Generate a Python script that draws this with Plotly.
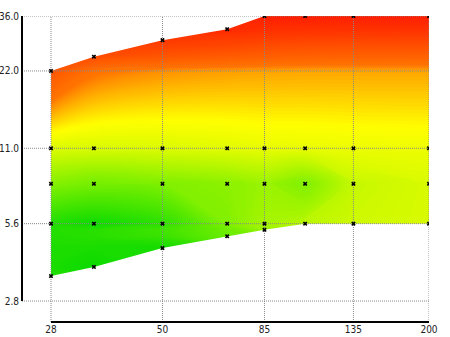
import numpy as np
import plotly.graph_objects as go

# ---- data ----
focal_lengths = [28, 35, 50, 70, 85, 105, 135, 200]
max_aperture = [3.5, 3.8, 4.5, 5.0, 5.3, 5.6, 5.6, 5.6]   # lower edge (f-number)
min_aperture = [22, 25, 29, 32, 36, 36, 36, 36]           # upper edge (f-number)
common_stops = [5.6, 8, 11]

score_max_ap = [0.08, 0.03, 0.05, 0.25, 0.34, 0.39, 0.42, 0.44]
score_f5_6 = [0.08, 0.04, 0.11, 0.30, 0.36, 0.39, 0.42, 0.44]
score_f8 = [0.31, 0.28, 0.30, 0.32, 0.34, 0.30, 0.41, 0.44]
score_f11 = [0.445, 0.44, 0.445, 0.455, 0.464, 0.466, 0.47, 0.473]
score_min_ap = [0.73, 0.76, 0.84, 0.93, 0.99, 0.99, 0.99, 0.99]

x_ticks = [28, 50, 85, 135, 200]
y_ticks = [2.8, 5.6, 11, 22, 36]
y_tick_text = ["2.8", "5.6", "11.0", "22.0", "36.0"]

# ---- build point list ----
px, py, pz = [], [], []
for i, f in enumerate(focal_lengths):
    if max_aperture[i] not in common_stops:
        px.append(f); py.append(max_aperture[i]); pz.append(score_max_ap[i])
    for s, arr in zip(common_stops, [score_f5_6, score_f8, score_f11]):
        px.append(f); py.append(s); pz.append(arr[i])
    px.append(f); py.append(min_aperture[i]); pz.append(score_min_ap[i])

# axis ranges (log10), plot area 22..429 x 16..322 px
x_hi = np.log10(200)
x_lo = x_hi - (np.log10(200) - np.log10(28)) * 407 / 378
y_hi = np.log10(36)
y_lo = y_hi - (np.log10(36) - np.log10(2.8)) * 306 / 285
xmin, ymin, ymax = 10 ** x_lo, 10 ** y_lo, 10 ** y_hi

colorscale = [[0.0, "#00d800"], [0.3, "#80f000"], [0.5, "#ffff00"],
              [0.62, "#ff7400"], [0.8, "#ff4200"], [1.0, "#ff1e00"]]

fig = go.Figure()
fig.add_trace(go.Contour(x=px, y=py, z=pz, connectgaps=True,
                         autocontour=False,
                         contours=dict(start=0, end=1, size=0.005,
                                       coloring="fill", showlines=False),
                         line=dict(width=0),
                         colorscale=colorscale, zmin=0, zmax=1, showscale=False,
                         hoverinfo="skip"))

# white mask outside the measured region
mx = [xmin, focal_lengths[-1]] + focal_lengths[::-1] + focal_lengths[:5] + [xmin]
my = [ymin, ymin] + max_aperture[::-1] + min_aperture[:5] + [ymax]
fig.add_trace(go.Scatter(x=mx, y=my, fill="toself", fillcolor="white",
                         line=dict(width=0), mode="lines", hoverinfo="skip"))

# grid lines (drawn over the colour field)
gx, gy = [], []
for t in x_ticks:
    gx += [t, t, None]; gy += [ymin, ymax, None]
for t in y_ticks:
    gx += [xmin, 200, None]; gy += [t, t, None]
fig.add_trace(go.Scatter(x=gx, y=gy, mode="lines",
                         line=dict(color="#8a8a8a", width=1, dash="1px,1px"),
                         hoverinfo="skip"))

# measurement points
fig.add_trace(go.Scatter(x=px, y=py, mode="markers",
                         marker=dict(symbol="x", size=4, color="black",
                                     line=dict(width=0)),
                         hoverinfo="skip"))

font = dict(family="Liberation Sans Narrow, Arial Narrow, DejaVu Sans Condensed",
            size=10, color="#222")
fig.update_layout(
    width=450, height=337, margin=dict(l=22, r=21, t=16, b=15),
    paper_bgcolor="white", plot_bgcolor="white", showlegend=False,
    font=font,
    xaxis=dict(type="log", range=[x_lo, x_hi], showgrid=False, zeroline=False,
               showline=False, tickmode="array", tickvals=x_ticks,
               ticktext=[str(t) for t in x_ticks], ticks="", fixedrange=True,
               automargin=False),
    yaxis=dict(type="log", range=[y_lo, y_hi], showgrid=False, zeroline=False,
               showline=False, tickmode="array", tickvals=y_ticks,
               ticktext=y_tick_text, ticks="", fixedrange=True,
               automargin=False, ticklabelstandoff=2),
    shapes=[
        dict(type="line", xref="paper", yref="paper", layer="above",
             x0=(np.log10(28) - x_lo) / (x_hi - x_lo), x1=1, y0=0, y1=0,
             line=dict(color="black", width=2)),
        dict(type="line", xref="paper", yref="paper", layer="above",
             x0=0, x1=0, y0=(np.log10(2.8) - y_lo) / (y_hi - y_lo), y1=1,
             line=dict(color="black", width=2)),
    ],
)
fig.write_html("out.html")
